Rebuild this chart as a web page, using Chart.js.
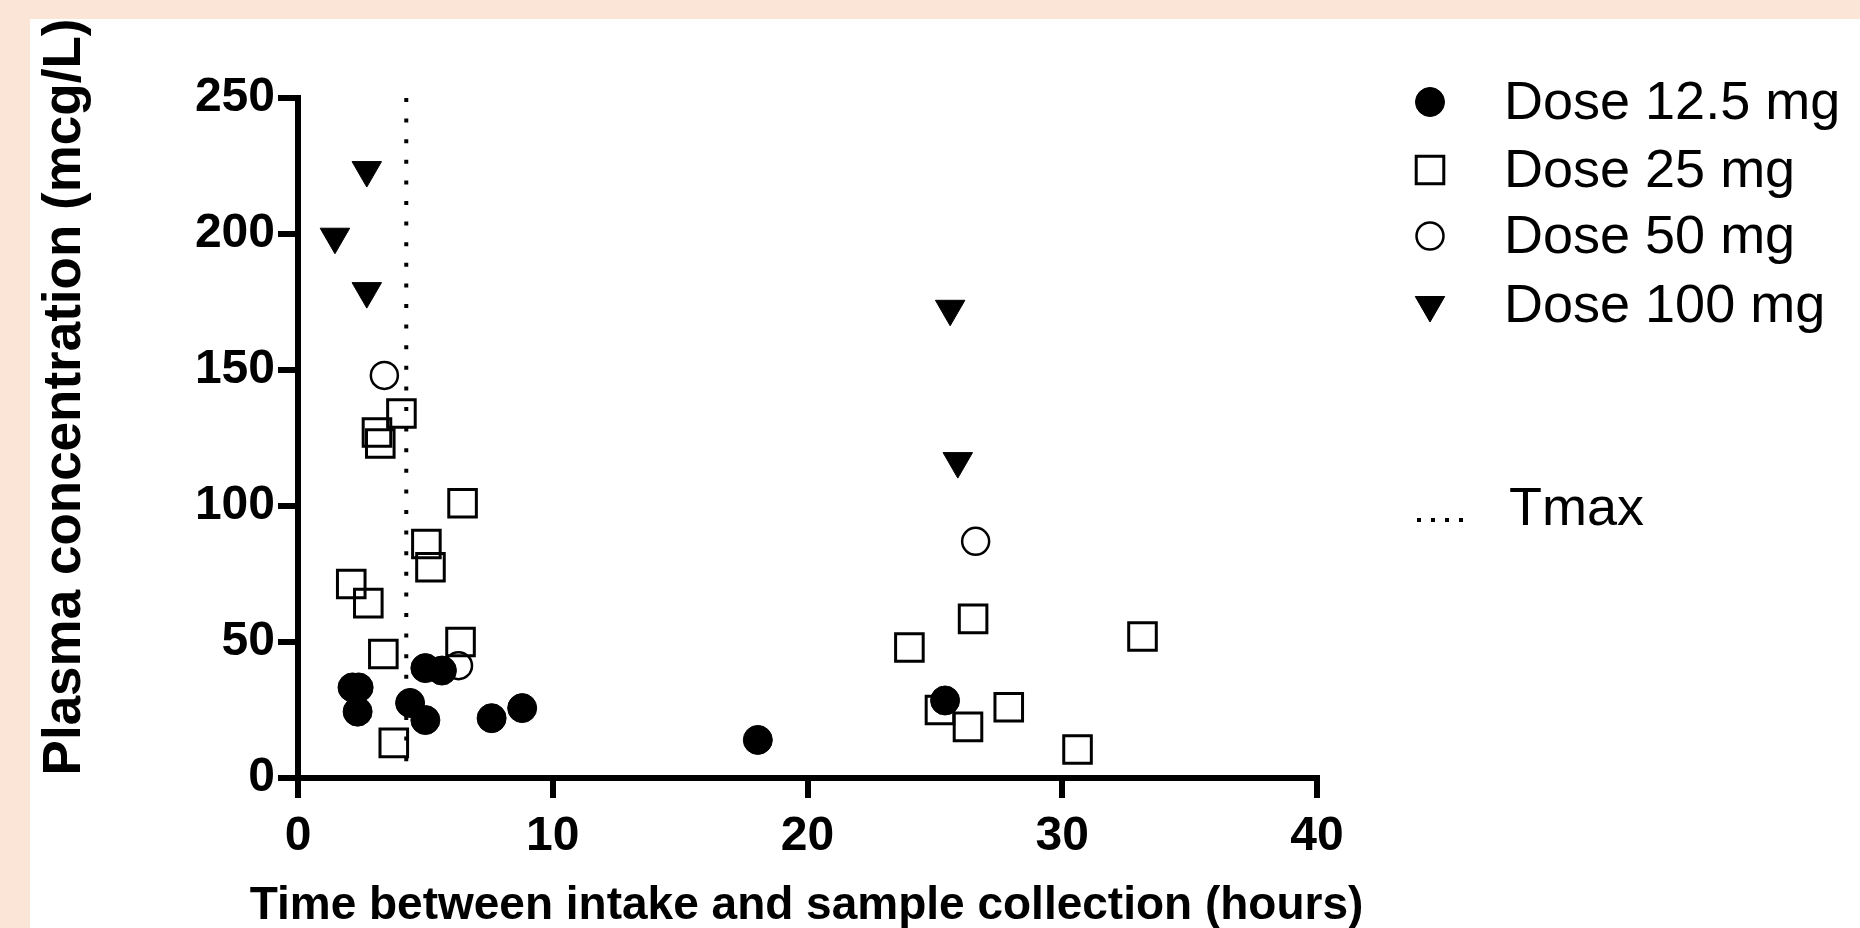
<!DOCTYPE html>
<html>
<head>
<meta charset="utf-8">
<title>Plasma concentration vs time after intake</title>
<script src="https://cdn.jsdelivr.net/npm/chart.js@4.4.1/dist/chart.umd.min.js"></script>
<style>
  html, body { margin: 0; padding: 0; background: #fbe5d6; }
  #wrap { width: 1860px; height: 928px; }
</style>
</head>
<body>
<div id="wrap"><canvas id="chart"></canvas></div>
<script>
// Values: time (hours) and plasma concentration (mcg/L)
const dose12x = [2.14, 2.38, 2.34, 4.4, 5.0, 5.0, 5.65, 7.6, 8.8, 18.05, 25.4];
const dose12y = [33.3, 33.3, 24.4, 27.6, 21.3, 40.4, 39.5, 22, 25.7, 14, 28.5];

const dose25x = [4.06, 3.1, 3.23, 6.46, 5.04, 5.2, 2.09, 2.76, 6.38, 3.35, 3.76, 24.0, 26.5, 33.15, 25.2, 26.3, 27.9, 30.6];
const dose25y = [134, 127, 123, 101, 86, 77.5, 71.3, 64.3, 50, 45.6, 12.9, 48, 58.5, 52, 25, 18.8, 26, 10.5];

const dose50x = [3.39, 6.3, 26.6];
const dose50y = [148, 41.3, 87];

const dose100x = [1.45, 2.7, 2.7, 25.6, 25.9];
const dose100y = [199, 223.5, 179, 172.5, 116.5];

const tmax = 4.25;

const doseLabels = ['Dose 12.5 mg', 'Dose 25 mg', 'Dose 50 mg', 'Dose 100 mg'];
const tmaxLabel = 'Tmax';
const xTicks = [0, 10, 20, 30, 40];
const yTicks = [0, 50, 100, 150, 200, 250];
const xTitle = 'Time between intake and sample collection (hours)';
const yTitle = 'Plasma concentration (mcg/L)';

const pts = (xs, ys) => xs.map((x, i) => ({ x: x, y: ys[i] }));

const textFont = "'Liberation Sans', Arial, sans-serif";

// Peach frame with white panel
const frame = {
  id: 'frame',
  beforeDraw(chart) {
    const ctx = chart.ctx;
    ctx.save();
    ctx.fillStyle = '#fbe5d6';
    ctx.fillRect(0, 0, chart.width, chart.height);
    ctx.fillStyle = '#ffffff';
    ctx.fillRect(30, 19, chart.width - 30, chart.height - 19);
    ctx.restore();
  }
};

// Axis titles: drawn by hand, the original ones overhang the axes
const axisTitles = {
  id: 'axisTitles',
  afterDraw(chart) {
    const ctx = chart.ctx;
    const xs = chart.scales.x;
    ctx.save();
    ctx.fillStyle = '#000';
    ctx.textAlign = 'center';
    ctx.textBaseline = 'middle';
    ctx.font = 'bold 46px ' + textFont;
    ctx.fillText(xTitle, (xs.left + xs.right) / 2 - 1, 906);
    ctx.translate(65, 397);
    ctx.rotate(-Math.PI / 2);
    ctx.font = 'bold 53px ' + textFont;
    ctx.fillText(yTitle, 0, 0);
    ctx.restore();
  }
};

// Legend on the right, Tmax set apart below the doses
const doseLegend = {
  id: 'doseLegend',
  afterDraw(chart) {
    const ctx = chart.ctx;
    const rows = [102, 170, 236, 305, 508];
    ctx.save();
    ctx.font = '54px ' + textFont;
    ctx.textAlign = 'left';
    ctx.textBaseline = 'middle';
    chart.data.datasets.forEach((ds, i) => {
      const y = rows[i];
      if (ds.showLine) {
        ctx.strokeStyle = ds.borderColor;
        ctx.lineWidth = ds.borderWidth;
        ctx.setLineDash([4, 10]);
        ctx.beginPath();
        ctx.moveTo(1417, y + 12);
        ctx.lineTo(1463, y + 12);
        ctx.stroke();
        ctx.setLineDash([]);
      } else {
        ctx.fillStyle = ds.backgroundColor;
        ctx.strokeStyle = ds.borderColor;
        ctx.lineWidth = ds.borderWidth;
        Chart.helpers.drawPoint(ctx, {
          pointStyle: ds.pointStyle,
          radius: ds.pointRadius,
          rotation: ds.pointRotation || 0,
          borderWidth: ds.borderWidth
        }, 1430, y);
      }
      ctx.fillStyle = '#000';
      ctx.fillText(ds.label, ds.showLine ? 1509 : 1504, y + 2);
    });
    ctx.restore();
  }
};

const axisGrid = {
  drawOnChartArea: false,
  drawTicks: true,
  tickLength: 20,
  tickWidth: 6,
  tickColor: '#000',
  color: '#000',
  lineWidth: 6
};

new Chart(document.getElementById('chart'), {
  type: 'scatter',
  data: {
    datasets: [
      {
        label: doseLabels[0],
        data: pts(dose12x, dose12y),
        pointStyle: 'circle',
        pointRadius: 14.5,
        backgroundColor: '#000',
        borderColor: '#000',
        borderWidth: 1
      },
      {
        label: doseLabels[1],
        data: pts(dose25x, dose25y),
        pointStyle: 'rect',
        pointRadius: 19.5,
        backgroundColor: 'rgba(255,255,255,0)',
        borderColor: '#000',
        borderWidth: 3
      },
      {
        label: doseLabels[2],
        data: pts(dose50x, dose50y),
        pointStyle: 'circle',
        pointRadius: 13.5,
        backgroundColor: 'rgba(255,255,255,0)',
        borderColor: '#000',
        borderWidth: 2.5
      },
      {
        label: doseLabels[3],
        data: pts(dose100x, dose100y),
        pointStyle: 'triangle',
        pointRotation: 180,
        pointRadius: 17,
        backgroundColor: '#000',
        borderColor: '#000',
        borderWidth: 1
      },
      {
        type: 'line',
        label: tmaxLabel,
        data: [{ x: tmax, y: yTicks[yTicks.length - 1] }, { x: tmax, y: yTicks[0] }],
        showLine: true,
        borderColor: '#000',
        borderWidth: 4,
        borderDash: [4, 16.6],
        pointRadius: 0,
        fill: false
      }
    ]
  },
  options: {
    responsive: true,
    maintainAspectRatio: false,
    animation: false,
    events: [],
    clip: false,
    layout: {
      autoPadding: false,
      padding: { left: 0, top: 98, right: 543, bottom: 0 }
    },
    plugins: {
      legend: { display: false },
      tooltip: { enabled: false }
    },
    scales: {
      x: {
        type: 'linear',
        min: xTicks[0],
        max: xTicks[xTicks.length - 1],
        afterBuildTicks: s => { s.ticks = xTicks.map(v => ({ value: v })); },
        afterFit: s => { s.height = 150; },
        border: { display: true, color: '#000', width: 6 },
        grid: axisGrid,
        ticks: {
          color: '#000',
          padding: 10,
          maxRotation: 0,
          font: { family: textFont, size: 48, weight: 'bold' }
        }
      },
      y: {
        type: 'linear',
        min: yTicks[0],
        max: yTicks[yTicks.length - 1],
        afterBuildTicks: s => { s.ticks = yTicks.map(v => ({ value: v })); },
        afterFit: s => { s.width = 298; },
        border: { display: true, color: '#000', width: 6 },
        grid: axisGrid,
        ticks: {
          color: '#000',
          padding: 3,
          font: { family: textFont, size: 48, weight: 'bold' }
        }
      }
    }
  },
  plugins: [frame, axisTitles, doseLegend]
});
</script>
</body>
</html>
